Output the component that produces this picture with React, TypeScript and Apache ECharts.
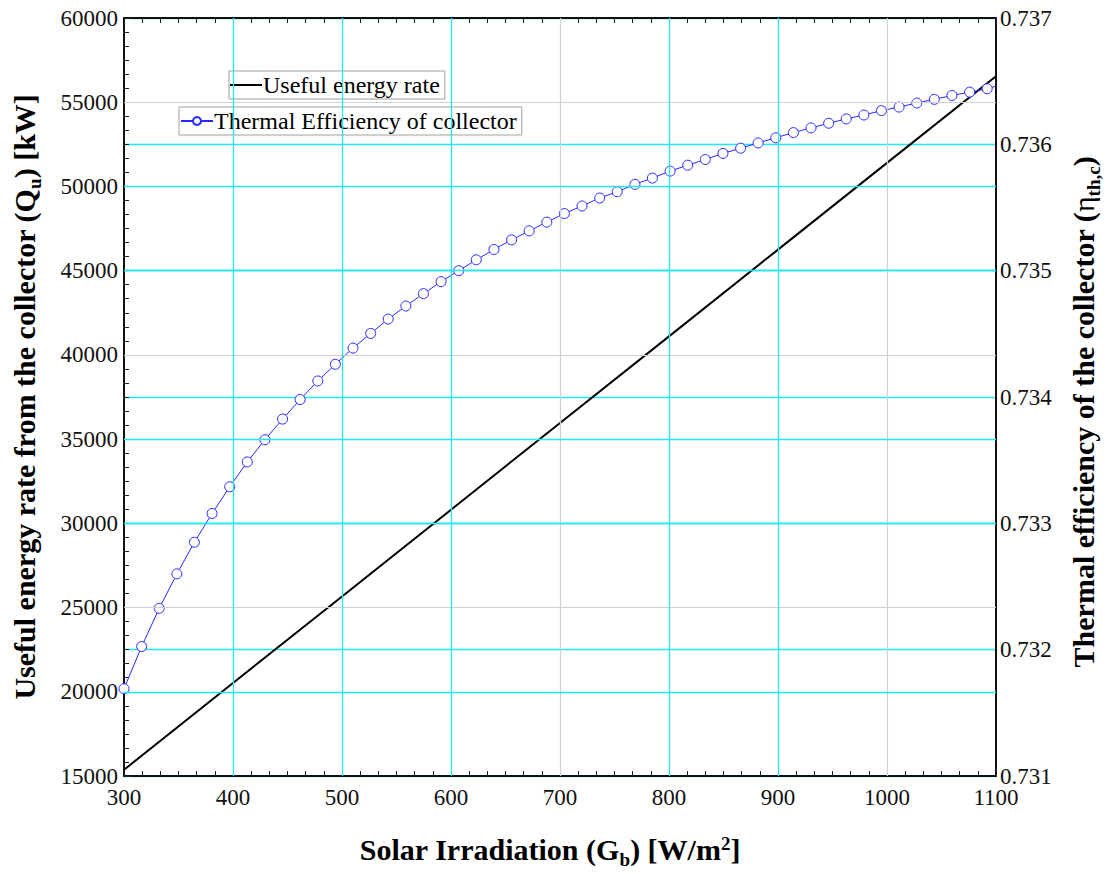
import React, { useEffect, useRef } from "react";
import * as echarts from "echarts";

// Useful energy rate (left axis, kW) vs solar irradiation
const irradiation = [300, 400, 500, 600, 700, 800, 900, 1000, 1100];
const usefulEnergy = [15370, 20520, 25660, 30810, 35960, 41100, 46250, 51400, 56545];

// Thermal efficiency of collector (right axis)
const effIrradiation = [
  300, 316.2, 332.3, 348.5, 364.6, 380.8, 397.0, 413.1, 429.3, 445.5,
  461.6, 477.8, 493.9, 510.1, 526.3, 542.4, 558.6, 574.7, 590.9, 607.1,
  623.2, 639.4, 655.6, 671.7, 687.9, 704.0, 720.2, 736.4, 752.5, 768.7,
  784.8, 801.0, 817.2, 833.3, 849.5, 865.7, 881.8, 898.0, 914.1, 930.3,
  946.5, 962.6, 978.8, 994.9, 1011.1, 1027.3, 1043.4, 1059.6, 1075.8, 1091.9,
  1100,
];
const efficiency = [
  0.731691, 0.732025, 0.732327, 0.7326, 0.73285, 0.733078, 0.733289, 0.733486, 0.733662, 0.733825,
  0.73398, 0.734127, 0.734259, 0.734387, 0.734503, 0.734617, 0.73472, 0.734818, 0.734913, 0.735,
  0.735086, 0.735168, 0.735244, 0.735315, 0.735384, 0.735452, 0.735512, 0.735575, 0.735625, 0.735683,
  0.735733, 0.735788, 0.735835, 0.73588, 0.735928, 0.735969, 0.736011, 0.736052, 0.736093, 0.73613,
  0.736167, 0.736201, 0.736232, 0.736267, 0.736295, 0.736327, 0.736356, 0.736387, 0.736413, 0.73644,
  0.736461,
];

// Grid lines (two colours, as in the original plot)
const cyanXLines = [400, 500, 600, 800, 900];
const grayXLines = [700, 1000];
const cyanYLines = [20000, 30000, 35000, 45000, 50000];
const grayYLines = [25000, 40000, 55000];

const SERIF = "Liberation Serif";
const GRAY = "#d0d0d0";
const CYAN = "#22e8f0";
const BLUE = "#2828ff";

export default function App() {
  const ref = useRef<HTMLDivElement>(null);
  useEffect(() => {
    if (!ref.current) return;
    const chart = echarts.init(ref.current, undefined, { renderer: "svg" });
    const effData = effIrradiation.map((x, i) =>
      i === effIrradiation.length - 1
        ? { value: [x, efficiency[i]], symbol: "none" }
        : { value: [x, efficiency[i]] }
    );
    const energyData = irradiation.map((x, i) => [x, usefulEnergy[i]]);
    const titleRich = {
      b: { fontFamily: SERIF, fontWeight: "bold", fontSize: 30, color: "#000", lineHeight: 35, verticalAlign: "top" },
      s: { fontFamily: SERIF, fontWeight: "bold", fontSize: 19, color: "#000", lineHeight: 19, verticalAlign: "bottom" },
      p: { fontFamily: SERIF, fontWeight: "bold", fontSize: 19, color: "#000", lineHeight: 35, verticalAlign: "top" },
      g: { fontFamily: SERIF, fontWeight: "normal", fontSize: 30, color: "#000", lineHeight: 35, verticalAlign: "top" },
    };
    const axisLine = { show: true, lineStyle: { color: "#111", width: 2 } };
    const minorTick = { show: true, splitNumber: 6, length: 5, lineStyle: { color: "#222", width: 1 } };
    const gridLineSeries = (
      vals: number[],
      dim: "xAxis" | "yAxis",
      color: string,
      width: number
    ) => ({
      type: "line",
      xAxisIndex: 0,
      yAxisIndex: 0,
      data: [],
      silent: true,
      z: 1,
      markLine: {
        silent: true,
        symbol: "none",
        label: { show: false },
        animation: false,
        lineStyle: { color, width, type: "solid" },
        emphasis: { disabled: true },
        data: vals.map((v) => ({ [dim]: v })),
      },
    });
    chart.setOption({
      animation: false,
      backgroundColor: "#fff",
      grid: { left: 124, right: 110, top: 18, bottom: 95, containLabel: false },
      legend: [
        {
          data: [{ name: "Useful energy rate", icon: "rect" }],
          left: 229,
          top: 71,
          orient: "horizontal",
          backgroundColor: "#fff",
          borderColor: "#a0a0a0",
          borderWidth: 1,
          borderRadius: 0,
          padding: [2, 5, 2, 1],
          itemWidth: 32,
          itemHeight: 2,
          itemGap: 2,
          textStyle: { fontFamily: SERIF, fontSize: 24, color: "#000", padding: [0, 0, 0, -4] },
        },
        {
          data: ["Thermal Efficiency of collector"],
          left: 179,
          top: 107,
          orient: "horizontal",
          backgroundColor: "#fff",
          borderColor: "#a0a0a0",
          borderWidth: 1,
          borderRadius: 0,
          padding: [2, 5, 2, 1],
          itemWidth: 32,
          itemHeight: 10,
          itemGap: 2,
          textStyle: { fontFamily: SERIF, fontSize: 24, color: "#000", padding: [0, 0, 0, -4] },
        },
      ],
      xAxis: [
        {
          type: "value",
          position: "bottom",
          min: 300,
          max: 1100,
          interval: 100,
          axisLine,
          axisTick: { show: true, inside: true, length: 8, lineStyle: { color: "#222" } },
          minorTick,
          axisLabel: { fontFamily: SERIF, fontSize: 23, color: "#111", margin: 10, formatter: (v: number) => String(v) },
          splitLine: { show: false },
          name: "{b|Solar Irradiation (G}{s|b}{b|) [W/m}{p|2}{b|]}",
          nameLocation: "middle",
          nameGap: 58,
          nameTextStyle: { rich: titleRich, padding: [0, 20, 0, 0] },
        },
        {
          type: "value",
          position: "top",
          min: 300,
          max: 1100,
          interval: 100,
          axisLine,
          axisTick: { show: true, inside: true, length: 8, lineStyle: { color: "#222" } },
          minorTick,
          axisLabel: { show: false },
          splitLine: { show: false },
        },
      ],
      yAxis: [
        {
          type: "value",
          position: "left",
          min: 15000,
          max: 60000,
          interval: 5000,
          axisLine,
          axisTick: { show: true, inside: true, length: 8, lineStyle: { color: "#222" } },
          minorTick,
          axisLabel: { fontFamily: SERIF, fontSize: 23, color: "#111", margin: 6, formatter: (v: number) => String(v) },
          splitLine: { show: false },
          name: "{b|Useful energy rate from the collector (Q}{s|u}{b|) [kW]}",
          nameLocation: "middle",
          nameGap: 80,
          nameTextStyle: { rich: titleRich },
        },
        {
          type: "value",
          position: "right",
          min: 0.731,
          max: 0.737,
          interval: 0.001,
          axisLine,
          axisTick: { show: false },
          axisLabel: {
            fontFamily: SERIF,
            fontSize: 23,
            color: "#111",
            margin: 4,
            formatter: (v: number) => v.toFixed(3),
          },
          splitLine: { show: true, lineStyle: { color: CYAN, width: 1.3 } },
          name: "{b|Thermal efficiency of the collector (}{g|η}{s|th,c}{b|)}",
          nameLocation: "middle",
          nameGap: 72,
          nameTextStyle: { rich: titleRich, padding: [0, 30, 0, 0] },
        },
      ],
      series: [
        gridLineSeries(grayXLines, "xAxis", GRAY, 1.2),
        gridLineSeries(grayYLines, "yAxis", GRAY, 1.2),
        gridLineSeries(cyanXLines, "xAxis", CYAN, 1.3),
        gridLineSeries(cyanYLines, "yAxis", CYAN, 1.3),
        {
          name: "Useful energy rate",
          type: "line",
          xAxisIndex: 0,
          yAxisIndex: 0,
          data: energyData,
          showSymbol: false,
          symbol: "none",
          lineStyle: { color: "#000", width: 2 },
          itemStyle: { color: "#000" },
          z: 3,
        },
        {
          name: "Thermal Efficiency of collector",
          type: "line",
          xAxisIndex: 0,
          yAxisIndex: 1,
          data: effData,
          symbol: "circle",
          symbolSize: 10,
          showAllSymbol: true,
          lineStyle: { color: BLUE, width: 1 },
          itemStyle: { color: "#fff", borderColor: BLUE, borderWidth: 1 },
          z: 4,
        },
      ],
    });
    return () => chart.dispose();
  }, []);
  return (
    <div
      ref={ref}
      style={{ position: "absolute", left: 0, top: 0, width: 1111, height: 874, background: "#fff" }}
    />
  );
}
